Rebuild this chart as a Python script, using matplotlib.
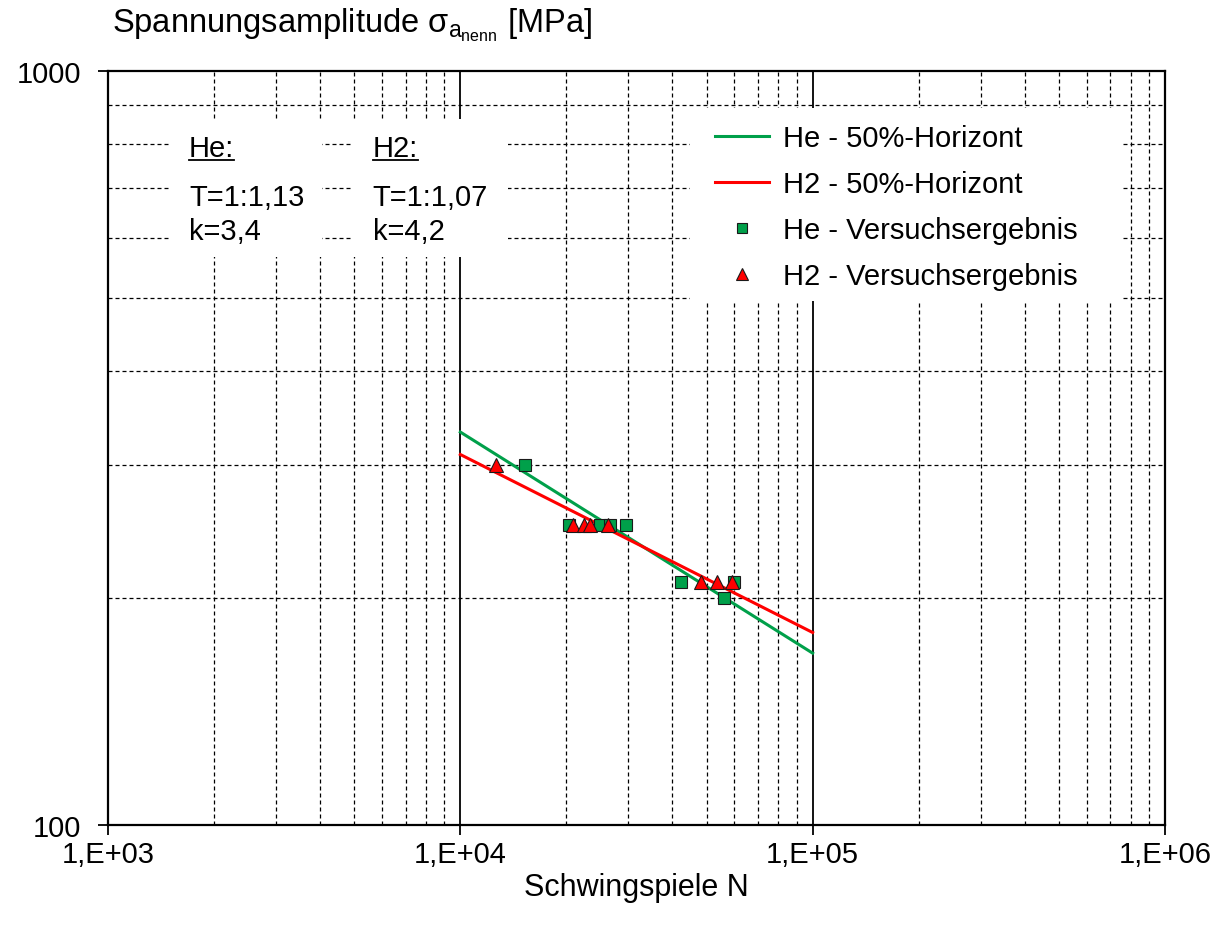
"""
Woehler diagram: He vs. H2, 50%-Horizont and test results
"""

import matplotlib
matplotlib.use('Agg')
import matplotlib.pyplot as plt
from matplotlib.patches import Rectangle
from matplotlib.ticker import FixedLocator, FixedFormatter, NullFormatter

plt.rcParams['font.family'] = ['Liberation Sans', 'DejaVu Sans']
plt.rcParams['mathtext.fontset'] = 'custom'
plt.rcParams['mathtext.rm'] = 'Liberation Sans'
plt.rcParams['mathtext.it'] = 'Liberation Sans'

# 50%-Horizont lines (read at N=1E+04 and N=1E+05)
he_line_n = [1e4, 1e5]
he_line_s = [332, 169]
h2_line_n = [1e4, 1e5]
h2_line_s = [310, 180]

# test results
he_n = [15290, 20350, 24920, 26600, 29530, 42230, 56040, 59830]
he_s = [300, 250, 250, 250, 250, 210, 200, 210]
h2_n = [12630, 20840, 22440, 23350, 26260, 48130, 53430, 58930]
h2_s = [300, 250, 250, 250, 250, 210, 210, 210]

x_ticks = [1e3, 1e4, 1e5, 1e6]
x_tick_labels = ['1,E+03', '1,E+04', '1,E+05', '1,E+06']
y_ticks = [100, 1000]
y_tick_labels = ['100', '1000']

legend_labels = ['He - 50%-Horizont', 'H2 - 50%-Horizont',
                 'He - Versuchsergebnis', 'H2 - Versuchsergebnis']
he_text = ['He:', 'T=1:1,13', 'k=3,4']
h2_text = ['H2:', 'T=1:1,07', 'k=4,2']

GREEN = '#00A04A'
RED = '#FF0000'

fig = plt.figure(figsize=(12.26, 9.29), dpi=100)
ax = fig.add_axes([0.0881, 0.1109, 0.8621, 0.8116])
ax.set_xscale('log')
ax.set_yscale('log')
ax.set_xlim(1e3, 1e6)
ax.set_ylim(100, 1000)

# grid
ax.set_axisbelow(True)
ax.grid(which='minor', color='black', linestyle=(0, (3.2, 2.4)), linewidth=0.9, zorder=0.5)
ax.grid(which='major', axis='x', color='black', linestyle='-', linewidth=1.3, zorder=0.5)
ax.grid(which='major', axis='y', visible=False)

ax.xaxis.set_major_locator(FixedLocator(x_ticks))
ax.xaxis.set_major_formatter(FixedFormatter(x_tick_labels))
ax.yaxis.set_major_locator(FixedLocator(y_ticks))
ax.yaxis.set_major_formatter(FixedFormatter(y_tick_labels))
ax.xaxis.set_minor_formatter(NullFormatter())
ax.yaxis.set_minor_formatter(NullFormatter())
ax.tick_params(which='minor', length=0)
ax.tick_params(which='major', direction='out', length=7.5, width=1.3, labelsize=21, colors='black')
ax.tick_params(axis='x', pad=3)
ax.tick_params(axis='y', pad=12)
for s in ax.spines.values():
    s.set_linewidth(1.6)

# white boxes behind the text blocks and the legend
for (x0, x1, y0, y1) in [(0.0587, 0.2025, 0.753, 0.936),
                         (0.2318, 0.3784, 0.753, 0.936),
                         (0.5506, 0.960, 0.695, 0.951)]:
    ax.add_patch(Rectangle((x0, y0), x1 - x0, y1 - y0, transform=ax.transAxes,
                           facecolor='white', edgecolor='none', zorder=1))

l1, = ax.plot(he_line_n, he_line_s, color=GREEN, lw=2.2, zorder=3)
l2, = ax.plot(h2_line_n, h2_line_s, color=RED, lw=2.2, zorder=3)
m1, = ax.plot(he_n, he_s, linestyle='none', marker='s', markersize=8.5,
              markerfacecolor=GREEN, markeredgecolor='#1a1a1a', markeredgewidth=0.8, zorder=4)
m2, = ax.plot(h2_n, h2_s, linestyle='none', marker='^', markersize=9.5,
              markerfacecolor=RED, markeredgecolor='#1a1a1a', markeredgewidth=0.8, zorder=5)

leg = ax.legend([l1, l2, m1, m2], legend_labels, loc='upper left',
                bbox_to_anchor=(0.574, 0.930), frameon=False, fontsize=21,
                borderpad=0, borderaxespad=0, handlelength=1.85, handletextpad=0.5,
                labelspacing=0.62, markerscale=0.85)
leg.set_zorder(6)

# text blocks
rows_y = [0.898, 0.833, 0.788]
titles = []
for x, lines in [(0.0766, he_text), (0.2505, h2_text)]:
    for i, (txt, y) in enumerate(zip(lines, rows_y)):
        t = ax.text(x, y, txt, transform=ax.transAxes, fontsize=21,
                    ha='left', va='center', zorder=6)
        if i == 0:
            titles.append(t)

ax.set_xlabel('Schwingspiele N', fontsize=22, labelpad=3)
fig.text(0.0914, 0.973, r'Spannungsamplitude σ$_{\mathregular{a}_{\mathregular{nenn}}}$ [MPa]',
         fontsize=23.5, ha='left', va='center')

# underline the He:/H2: headers
fig.canvas.draw()
inv = ax.transAxes.inverted()
for t in titles:
    bb = t.get_window_extent()
    (xa, ya), (xb, _) = inv.transform([(bb.x0, bb.y0), (bb.x1, bb.y1)])
    ax.plot([xa, xb], [ya + 0.002, ya + 0.002], transform=ax.transAxes,
            color='black', lw=1.3, zorder=6)

plt.savefig('out.png', dpi=100)
